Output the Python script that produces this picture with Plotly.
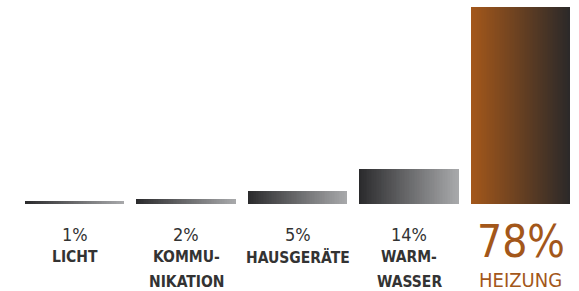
import plotly.graph_objects as go

# ---- data ----
categories = ["LICHT", "KOMMUNIKATION", "HAUSGERÄTE", "WARMWASSER", "HEIZUNG"]
values = [1, 2, 5, 14, 78]
pct_labels = ["1%", "2%", "5%", "14%", "78%"]
name_lines = [["LICHT"], ["KOMMU-", "NIKATION"], ["HAUSGERÄTE"], ["WARM-", "WASSER"], ["HEIZUNG"]]
highlight = "HEIZUNG"

# ---- style ----
W, H = 579, 291
GRAY_L, GRAY_R = (0x2b, 0x2b, 0x2d), (0xa7, 0xa8, 0xaa)
ORG_L, ORG_R = (0xa3, 0x57, 0x1a), (0x2c, 0x29, 0x29)
TEXT = "#333333"
ORANGE = "#a3571a"
FONT = "Liberation Sans Narrow, DejaVu Sans Condensed, Arial Narrow, sans-serif"
N = 60
BW = 0.89

def lerp(a, b, t):
    return "rgb(%d,%d,%d)" % tuple(round(a[j] + (b[j] - a[j]) * t) for j in range(3))

fig = go.Figure()
for i, (cat, v) in enumerate(zip(categories, values)):
    cl, cr = (ORG_L, ORG_R) if cat == highlight else (GRAY_L, GRAY_R)
    xs = [i - BW / 2 + (k + 0.5) * BW / N for k in range(N)]
    cols = [lerp(cl, cr, k / (N - 1)) for k in range(N)]
    fig.add_trace(go.Bar(x=xs, y=[v] * N, width=[BW / N * 1.05] * N,
                         marker=dict(color=cols, line=dict(width=0)),
                         hoverinfo="skip", showlegend=False))

def py(p):
    return 1 - p / H

for i, cat in enumerate(categories):
    hi = cat == highlight
    fig.add_annotation(x=i, y=py(241.5 if hi else 234), xref="x", yref="paper",
                       text=pct_labels[i], showarrow=False, yanchor="middle",
                       font=dict(family=FONT, size=44 if hi else 18,
                                 color=ORANGE if hi else TEXT))
    for j, line in enumerate(name_lines[i]):
        yy = 279.5 if hi else 257 + 24.5 * j
        fig.add_annotation(x=i, y=py(yy), xref="x", yref="paper",
                           text=line if hi else "<b>%s</b>" % line, showarrow=False,
                           yanchor="middle",
                           font=dict(family=FONT, size=20 if hi else 15.5,
                                     color=ORANGE if hi else TEXT))

a = -74.8 / 111.5
b = a + W / 111.5
fig.update_layout(
    width=W, height=H, margin=dict(l=0, r=0, t=0, b=0),
    paper_bgcolor="white", plot_bgcolor="white", bargap=0, barmode="overlay",
    xaxis=dict(range=[a, b], visible=False, fixedrange=True),
    yaxis=dict(range=[0, 78], domain=[87 / H, (H - 7) / H], visible=False, fixedrange=True),
)
fig.write_html("out.html", config={"displayModeBar": False},
               post_script="document.body.style.margin='0';document.body.style.overflow='hidden';")
